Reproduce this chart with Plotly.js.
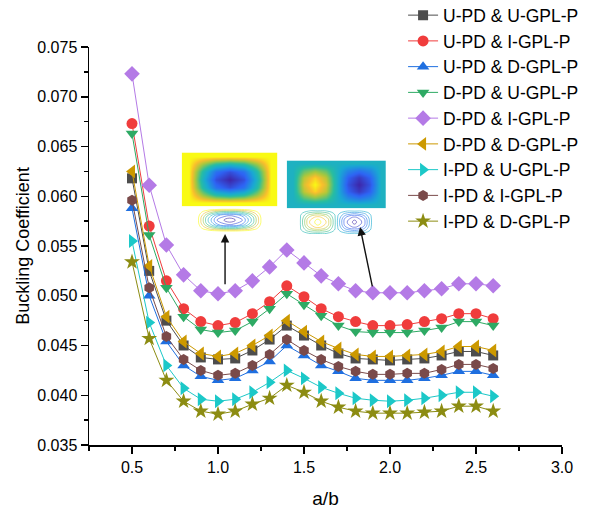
<!DOCTYPE html>
<html>
<head>
<meta charset="utf-8">
<script src="https://cdn.plot.ly/plotly-3.0.1.min.js"></script>
<style>html,body{margin:0;padding:0;background:#fff;}#chart{width:590px;height:511px;}</style>
</head>
<body>
<div id="chart"></div>
<script>
// ---- data ----
const aOverB = [0.5,0.6,0.7,0.8,0.9,1.0,1.1,1.2,1.3,1.4,1.5,1.6,1.7,1.8,1.9,2.0,2.1,2.2,2.3,2.4,2.5,2.6];
const seriesNames = ["U-PD & U-GPL-P","U-PD & I-GPL-P","U-PD & D-GPL-P","D-PD & U-GPL-P","D-PD & I-GPL-P","D-PD & D-GPL-P","I-PD & U-GPL-P","I-PD & I-GPL-P","I-PD & D-GPL-P"];
const uPD_uGPL = [0.0618,0.0525,0.0475,0.0450,0.0438,0.0436,0.0437,0.0445,0.0456,0.0470,0.0460,0.0450,0.0442,0.0437,0.0436,0.0435,0.0436,0.0437,0.0440,0.0444,0.0444,0.0440];
const uPD_iGPL = [0.0673,0.0570,0.0515,0.0487,0.0474,0.0470,0.0473,0.0482,0.0494,0.0510,0.0499,0.0487,0.0479,0.0474,0.0470,0.0470,0.0471,0.0474,0.0477,0.0482,0.0482,0.0477];
const uPD_dGPL = [0.0588,0.0500,0.0454,0.0430,0.0419,0.0415,0.0417,0.0425,0.0434,0.0450,0.0440,0.0430,0.0424,0.0417,0.0415,0.0415,0.0415,0.0417,0.0420,0.0424,0.0424,0.0420];
const dPD_uGPL = [0.0663,0.0561,0.0508,0.0479,0.0466,0.0463,0.0465,0.0474,0.0487,0.0502,0.0491,0.0480,0.0470,0.0464,0.0463,0.0463,0.0463,0.0465,0.0468,0.0474,0.0474,0.0470];
const dPD_iGPL = [0.0723,0.0611,0.0551,0.0521,0.0505,0.0502,0.0505,0.0515,0.0529,0.0546,0.0533,0.0520,0.0512,0.0505,0.0503,0.0503,0.0503,0.0505,0.0507,0.0512,0.0512,0.0510];
const dPD_dGPL = [0.0625,0.0530,0.0479,0.0454,0.0442,0.0439,0.0442,0.0450,0.0460,0.0475,0.0464,0.0454,0.0447,0.0441,0.0439,0.0439,0.0440,0.0441,0.0444,0.0449,0.0449,0.0445];
const iPD_uGPL = [0.0555,0.0473,0.0430,0.0407,0.0396,0.0394,0.0396,0.0403,0.0413,0.0425,0.0417,0.0408,0.0402,0.0397,0.0395,0.0394,0.0395,0.0397,0.0400,0.0403,0.0403,0.0399];
const iPD_iGPL = [0.0596,0.0508,0.0459,0.0436,0.0425,0.0420,0.0422,0.0430,0.0441,0.0456,0.0445,0.0436,0.0429,0.0424,0.0421,0.0421,0.0422,0.0422,0.0426,0.0431,0.0431,0.0427];
const iPD_dGPL = [0.0534,0.0457,0.0415,0.0394,0.0384,0.0381,0.0384,0.0391,0.0397,0.0410,0.0403,0.0394,0.0388,0.0384,0.0382,0.0382,0.0382,0.0383,0.0384,0.0389,0.0389,0.0384];
const allSeries = [uPD_uGPL,uPD_iGPL,uPD_dGPL,dPD_uGPL,dPD_iGPL,dPD_dGPL,iPD_uGPL,iPD_iGPL,iPD_dGPL];

// inset mode shapes (hand-read grids)
const gridA = [0,0.17,0.33,0.5,0.67,0.83,1];
const gridB = [0,0.125,0.25,0.375,0.5,0.625,0.75,0.875,1];
const mode1 = [
  [0,0,0,0,0,0,0],
  [0,-0.075,-0.13,-0.15,-0.13,-0.075,0],
  [0,-0.13,-0.225,-0.26,-0.225,-0.13,0],
  [0,-0.15,-0.26,-0.30,-0.26,-0.15,0],
  [0,-0.13,-0.225,-0.26,-0.225,-0.13,0],
  [0,-0.075,-0.13,-0.15,-0.13,-0.075,0],
  [0,0,0,0,0,0,0]
];
const mode2 = [
  [0,0,0,0,0,0,0,0,0],
  [0,0.106,0.15,0.106,0,-0.106,-0.15,-0.106,0],
  [0,0.184,0.26,0.184,0,-0.184,-0.26,-0.184,0],
  [0,0.212,0.30,0.212,0,-0.212,-0.30,-0.212,0],
  [0,0.184,0.26,0.184,0,-0.184,-0.26,-0.184,0],
  [0,0.106,0.15,0.106,0,-0.106,-0.15,-0.106,0],
  [0,0,0,0,0,0,0,0,0]
];

// ---- styles ----
const colors = ['#4d4d4d','#f03c3c','#1f6fe0','#2eaa64','#b47ae6','#cc9900','#1cc8c8','#7a4a4a','#8c8c12'];
const symbols = ['square','circle','triangle-up','triangle-down','diamond','triangle-left','triangle-right','hexagon','star'];
const sizes = [10,11,11,11,12,12,12,11,12];

const FONT = 'Liberation Sans, Arial, sans-serif';
const parula = [[0,'rgb(62,38,168)'],[0.2,'rgb(46,100,245)'],[0.45,'rgb(25,170,210)'],[0.6,'rgb(40,190,160)'],[0.78,'rgb(170,200,60)'],[0.9,'rgb(250,190,45)'],[1,'rgb(249,250,20)']];

const traces = [];
// insets (drawn first, underneath the data)
traces.push({type:'heatmap', x:gridA, y:gridA, z:mode1, zmin:-0.3, zmax:0, zsmooth:'best', colorscale:parula,
  showscale:false, xaxis:'x2', yaxis:'y2', hoverinfo:'skip', showlegend:false});
traces.push({type:'contour', x:gridA, y:gridA, z:mode1, zmin:-0.3, zmax:0, colorscale:parula, showscale:false,
  contours:{coloring:'lines', start:-0.28, end:-0.02, size:0.03}, line:{width:0.6, smoothing:1.3},
  xaxis:'x3', yaxis:'y3', hoverinfo:'skip', showlegend:false});
traces.push({type:'heatmap', x:gridB, y:gridA, z:mode2, zmin:-0.3, zmax:0.3, zsmooth:'best', colorscale:parula,
  showscale:false, xaxis:'x4', yaxis:'y4', hoverinfo:'skip', showlegend:false});
traces.push({type:'contour', x:gridB, y:gridA, z:mode2, zmin:-0.3, zmax:0.3, colorscale:parula, showscale:false,
  contours:{coloring:'lines', start:-0.28, end:0.28, size:0.05}, line:{width:0.6, smoothing:1.3},
  xaxis:'x5', yaxis:'y5', hoverinfo:'skip', showlegend:false});

allSeries.forEach((ys,i)=>traces.push({
  type:'scatter', mode:'lines+markers', x:aOverB, y:ys, name:seriesNames[i],
  line:{color:colors[i], width:1},
  marker:{symbol:symbols[i], color:colors[i], size:sizes[i], line:{width:0}},
  xaxis:'x', yaxis:'y'
}));

function insetAxis(dom, anchor){
  return {domain:dom, anchor:anchor, visible:false, fixedrange:true, showgrid:false, zeroline:false};
}

const layout = {
  width:590, height:511,
  margin:{l:89, r:28, t:47, b:66, autoexpand:false},
  paper_bgcolor:'#fff', plot_bgcolor:'rgba(0,0,0,0)',
  font:{family:FONT, color:'#000', size:16},
  showlegend:true,
  legend:{x:0.664, y:1.125, xanchor:'left', yanchor:'top',
    font:{family:FONT, size:17.5, color:'#000'},
    bgcolor:'rgba(255,255,255,0)', borderwidth:0, tracegroupgap:0},
  xaxis:{range:[0.25,3.0], dtick:0.5, tick0:0, tickformat:'.1f', showgrid:false, zeroline:false,
    showline:true, linecolor:'#000', linewidth:1.5, ticks:'outside', ticklen:7, tickwidth:1.5, tickcolor:'#000',
    tickfont:{family:FONT, size:16}, minor:{dtick:0.25, tick0:0, ticks:'outside', ticklen:4, tickwidth:1.5, tickcolor:'#000', showgrid:false},
    title:{text:'a/b', font:{family:FONT, size:19}, standoff:17}},
  yaxis:{range:[0.035,0.075], dtick:0.005, tick0:0, tickformat:'.3f', showgrid:false, zeroline:false,
    showline:true, linecolor:'#000', linewidth:1.5, ticks:'outside', ticklen:7, tickwidth:1.5, tickcolor:'#000',
    tickfont:{family:FONT, size:16}, minor:{dtick:0.0025, tick0:0, ticks:'outside', ticklen:4, tickwidth:1.5, tickcolor:'#000', showgrid:false},
    title:{text:'Buckling Coefficient', font:{family:FONT, size:18}, standoff:3}},
  xaxis2: insetAxis([0.196,0.398],'y2'), yaxis2: insetAxis([0.60,0.735],'x2'),
  xaxis3: insetAxis([0.225,0.37],'y3'), yaxis3: insetAxis([0.535,0.595],'x3'),
  xaxis4: insetAxis([0.418,0.628],'y4'), yaxis4: insetAxis([0.595,0.715],'x4'),
  xaxis5: insetAxis([0.445,0.60],'y5'), yaxis5: insetAxis([0.530,0.590],'x5'),
  annotations:[
    {x:1.041, y:0.0562, ax:1.041, ay:0.0510, xref:'x', yref:'y', axref:'x', ayref:'y', text:'',
     showarrow:true, arrowhead:2, arrowsize:1.2, arrowwidth:1.4, arrowcolor:'#111'},
    {x:1.826, y:0.0569, ax:1.899, ay:0.0508, xref:'x', yref:'y', axref:'x', ayref:'y', text:'',
     showarrow:true, arrowhead:2, arrowsize:1.2, arrowwidth:1.4, arrowcolor:'#111'}
  ]
};

Plotly.newPlot('chart', traces, layout, {displayModeBar:false, staticPlot:true});
</script>
</body>
</html>
